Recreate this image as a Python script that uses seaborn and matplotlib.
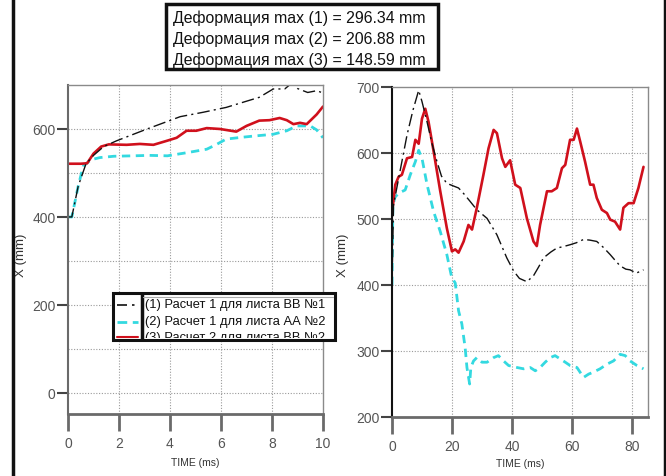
import numpy as np
import pandas as pd
import matplotlib
matplotlib.use("Agg")
import matplotlib.pyplot as plt
import seaborn as sns
from matplotlib.lines import Line2D
from matplotlib.patches import Rectangle
from matplotlib.transforms import Bbox, TransformedBbox

# ---------------- data ----------------
header_lines = ["Деформация max (1) = 296.34 mm",
                "Деформация max (2) = 206.88 mm",
                "Деформация max (3) = 148.59 mm"]
legend_labels = ["(1) Расчет 1 для листа ВВ №1",
                 "(2) Расчет 1 для листа АА №2",
                 "(3) Расчет 2 для листа ВВ №2"]

# left panel (0..10 ms)
l1_t = [0, 0.15, 0.4, 0.7, 1.0, 1.4, 1.9, 3.1, 4.4, 5.3, 6.2, 7.5, 8.05, 8.5, 8.77, 9.0, 9.4, 9.75, 10.0]
l1_v = [400, 400, 470, 520, 540, 560, 573, 600, 628, 638, 649, 672, 691, 691, 704, 692, 683, 687, 682]

l2_t = [0, 0.15, 0.4, 0.6, 0.9, 1.25, 1.8, 2.56, 3.2, 3.9, 4.65, 5.44, 5.83, 6.2, 6.8, 7.3, 8.05, 8.58, 8.97, 9.5, 9.75, 10.0]
l2_v = [400, 400, 470, 516, 530, 535, 538, 539, 540, 539, 546, 554, 565, 577, 581, 584, 588, 596, 607, 607, 598, 580]

l3_t = [0, 0.5, 0.75, 1.0, 1.3, 1.6, 2.3, 2.82, 3.35, 3.87, 4.26, 4.65, 5.03, 5.44, 5.96, 6.6, 7.0, 7.5, 7.9, 8.3, 8.58, 8.84, 9.1, 9.36, 9.75, 10.0]
l3_v = [521, 521, 522, 544, 560, 565, 564, 566, 564, 573, 580, 596, 596, 602, 600, 594, 607, 619, 620, 625, 620, 611, 614, 611, 633, 651]

# right panel (0..85 ms)
r1_t = [0, 0.5, 3, 5, 7, 8.9, 10, 11.7, 13.3, 15, 16.5, 18.3, 20.5, 22.2, 24, 26, 28.3, 31.7, 35, 38.3,
        40.6, 42.5, 45, 47.2, 49, 50.5, 53, 55, 57, 59.4, 61.5, 63.9, 66, 68.3, 70.5, 72.8, 74.5, 76.1,
        78, 79.4, 81.5, 83.9]
r1_v = [400, 521, 580, 627, 665, 695, 678, 647, 615, 587, 565, 554, 550, 547, 538, 527, 514, 501, 476, 441,
        421, 410, 405, 414, 428, 441, 450, 456, 458, 461, 464, 469, 468, 466, 457, 446, 437, 429,
        424, 423, 418, 423]

r2_t = [0, 0.3, 1.0, 2.2, 4.4, 6.1, 7.8, 8.9, 10, 11.7, 13.9, 16.1, 18.3, 19.7, 20, 21.1, 22.2, 23.3,
        24.4, 25, 25.9, 26.3, 27.2, 28.3, 30, 31.7, 33.9, 35.5, 37.2, 38.9, 41.7, 43.9, 46.1, 47.8,
        49.4, 51.1, 52.8, 54.4, 56.1, 57.8, 59.4, 61.7, 63.9, 65.6, 67.2, 69.4, 71.7, 73.9, 76.1,
        77.8, 79.4, 81.7, 83.9]
r2_v = [400, 520, 533, 539, 544, 567, 587, 604, 592, 552, 511, 481, 446, 416, 411, 403, 361, 341,
        305, 275, 250, 275, 285, 290, 283, 283, 290, 293, 285, 278, 275, 273, 275, 270,
        275, 283, 290, 293, 288, 283, 278, 275, 260, 265, 268, 273, 280, 285, 295,
        293, 285, 278, 273]

r3_t = [0, 0.3, 1.1, 2.2, 3.3, 5, 6.7, 7.8, 8.9, 10, 11.1, 12.2, 13.9, 16.1, 18.3, 20, 21.1, 22.2,
        23.9, 25.5, 26.7, 28.3, 30.5, 32.2, 33.9, 35, 36.7, 37.8, 39.4, 41.1, 42.8, 45, 47.2, 48.3,
        49.4, 51.7, 53.3, 55, 56.7, 57.8, 59.4, 60.6, 61.7, 62.8, 64.4, 66.1, 67.2, 68.3, 70, 71.7,
        72.8, 74.4, 76.1, 77.2, 78.9, 80.6, 82.2, 83.9]
r3_v = [516, 520, 552, 564, 567, 592, 594, 620, 614, 652, 667, 647, 602, 542, 486, 451, 454, 449,
        466, 491, 484, 517, 567, 607, 635, 630, 592, 579, 589, 552, 547, 501, 466, 459,
        491, 542, 542, 547, 577, 582, 620, 620, 637, 617, 587, 552, 552, 532, 514, 509,
        499, 496, 484, 517, 524, 524, 547, 579]

# ---------------- style ----------------
sns.set_theme(style="white")
plt.rcParams['font.family'] = ['Liberation Sans', 'DejaVu Sans']

W, H = 666, 477
fig = plt.figure(figsize=(W / 100, H / 100), dpi=100)
fig.patch.set_facecolor("white")

def fx(x):
    return x / W

def fy(y):
    return 1 - y / H

BLACK = "#111111"
CYAN = "#33d9e0"
RED = "#d0101c"
GRID = "#9a9a9a"
TICKC = "#555555"

black_style = dict(color=BLACK, lw=1.0, linestyle=(0, (9, 3, 1.5, 3)))
cyan_style = dict(color=CYAN, lw=2.0, linestyle=(0, (3, 2)))
red_style = dict(color=RED, lw=1.9, linestyle="-")

def style_axes(ax, xt, yt, ygrid, xgrid, leftspine_color):
    ax.set_facecolor("white")
    for s in ["top", "right"]:
        ax.spines[s].set_color("#8a8a8a")
        ax.spines[s].set_linewidth(1.0)
    ax.spines["bottom"].set_color("#6a6a6a")
    ax.spines["bottom"].set_linewidth(2.0)
    ax.spines["left"].set_color(leftspine_color)
    ax.spines["left"].set_linewidth(1.5)
    ax.set_xticks(xt)
    ax.set_yticks(yt)
    ax.tick_params(axis="x", direction="out", length=12, width=2.0, color="#6a6a6a",
                   labelsize=10, labelcolor=TICKC, pad=4, bottom=True)
    ax.tick_params(axis="y", direction="out", length=8, width=1.5, color="#444444",
                   labelsize=10, labelcolor=TICKC, pad=1, left=True)
    for g in ygrid:
        ax.axhline(g, color=GRID, lw=0.8, ls=(0, (1, 1.5)), zorder=0.5)
    for g in xgrid:
        ax.axvline(g, color=GRID, lw=0.8, ls=(0, (1, 1.5)), zorder=0.5)
    ax.grid(False)

# ---------------- left panel ----------------
axL = fig.add_axes([fx(68), fy(415), fx(323) - fx(68), fy(86) - fy(415)])
sns.lineplot(x=l2_t, y=l2_v, ax=axL, **cyan_style)
sns.lineplot(x=l3_t, y=l3_v, ax=axL, **red_style)
sns.lineplot(x=l1_t, y=l1_v, ax=axL, **black_style)
axL.set_xlim(0, 10)
axL.set_ylim(-48, 700)
style_axes(axL, [0, 2, 4, 6, 8, 10], [0, 200, 400, 600],
           [0, 100, 200, 300, 400, 500, 600], [2, 4, 6, 8], "#6a6a6a")
axL.set_xlabel("TIME (ms)", fontsize=7.5, color="#333333")
axL.set_ylabel("X (mm)", fontsize=9.5, color="#333333")
axL.yaxis.set_label_coords(-0.16, 0.486)
axL.xaxis.set_label_coords(0.5, -0.13)

# ---------------- right panel ----------------
axR = fig.add_axes([fx(392), fy(418), fx(648) - fx(392), fy(88) - fy(418)])
sns.lineplot(x=r2_t, y=r2_v, ax=axR, **cyan_style)
sns.lineplot(x=r3_t, y=r3_v, ax=axR, **red_style)
sns.lineplot(x=r1_t, y=r1_v, ax=axR, **black_style)
axR.set_xlim(0, 85.4)
axR.set_ylim(200, 700)
style_axes(axR, [0, 20, 40, 60, 80], [200, 300, 400, 500, 600, 700],
           [300, 400, 500, 600], [20, 40, 60, 80], "#111111")
axR.set_xlabel("TIME (ms)", fontsize=7.5, color="#333333")
axR.set_ylabel("X (mm)", fontsize=9.5, color="#333333")
axR.yaxis.set_label_coords(-0.168, 0.494)
axR.xaxis.set_label_coords(0.5, -0.125)

# ---------------- header box ----------------
fig.add_artist(Rectangle((fx(166), fy(70)), fx(438) - fx(166), fy(5) - fy(70),
                         transform=fig.transFigure, facecolor="white",
                         edgecolor="#111111", lw=2.5))
for i, s in enumerate(header_lines):
    fig.text(fx(173), fy(18 + 21 * i), s, fontsize=11.4, color="#111111",
             va="center", ha="left")

# ---------------- legend box (clipped, as in the reference) ----------------
lx0, lx1, ly0, ly1 = 113, 335, 294, 341
fig.add_artist(Rectangle((fx(lx0), fy(ly1)), fx(lx1) - fx(lx0), fy(ly0) - fy(ly1),
                         transform=fig.transFigure, facecolor="white",
                         edgecolor="#111111", lw=2.2, zorder=5))
clip = TransformedBbox(Bbox.from_extents(fx(lx0), fy(ly1 - 2), fx(lx1), fy(ly0)), fig.transFigure)
fig.add_artist(Line2D([fx(142), fx(142)], [fy(ly0 + 1), fy(ly1 - 1)], transform=fig.transFigure,
                      color="#111111", lw=2.5, zorder=6))
fig.add_artist(Line2D([fx(143), fx(lx1 - 2)], [fy(298), fy(298)], transform=fig.transFigure,
                      color="#aaaaaa", lw=0.8, zorder=6))
row_y = [305, 321.5, 338.5]
handle_styles = [dict(color=BLACK, lw=1.2, linestyle=(0, (6, 3, 1.5, 3))),
                 dict(color=CYAN, lw=2.0, linestyle=(0, (3.5, 2))),
                 dict(color=RED, lw=1.5, linestyle="-")]
for y, lab, hs in zip(row_y, legend_labels, handle_styles):
    yy = min(y + 1, 337.5)
    ln = Line2D([fx(117), fx(138)], [fy(yy), fy(yy)], transform=fig.transFigure,
                zorder=6, **hs)
    fig.add_artist(ln)
    t = fig.text(fx(145), fy(y), lab, fontsize=9.3, color="#111111",
                 va="center", ha="left", zorder=6)
    t.set_clip_box(clip)
    t.set_clip_on(True)

# ---------------- outer frame lines ----------------
fig.add_artist(Line2D([fx(12.5), fx(12.5)], [0, 1], transform=fig.transFigure,
                      color="#111111", lw=2.5))
fig.add_artist(Line2D([fx(664.5), fx(664.5)], [0, 1], transform=fig.transFigure,
                      color="#111111", lw=2.5))

fig.savefig("out.png", dpi=100, facecolor="white")
